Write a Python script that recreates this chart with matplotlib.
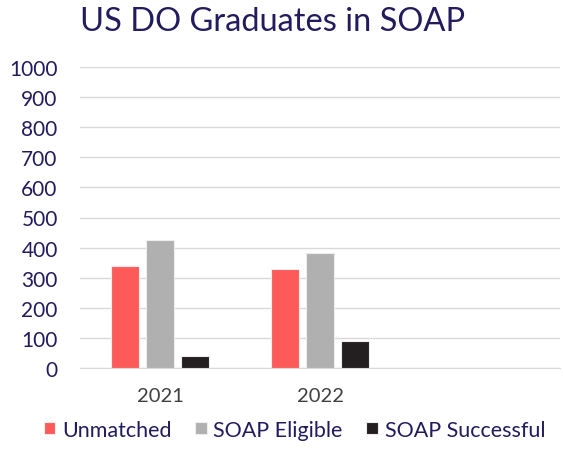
import numpy as np
import matplotlib
matplotlib.use("Agg")
from matplotlib import pyplot as plt

plt.rcParams['font.family'] = ['Lato', 'DejaVu Sans']

years = ["2021", "2022", ""]
unmatched = [338, 330, np.nan]
soap_eligible = [426, 383, np.nan]
soap_successful = [40, 91, np.nan]

navy = '#221C5E'
colors = ['#FF5A5A', '#B0B0B0', '#231F20']
labels = ['Unmatched', 'SOAP Eligible', 'SOAP Successful']

fig = plt.figure(figsize=(5.63, 4.6), dpi=100)
ax = fig.add_axes([0.142, 0.198, 0.853, 0.654])

x = np.arange(len(years))
w = 0.175
step = 0.22
for i, (vals, c, lab) in enumerate(zip([unmatched, soap_eligible, soap_successful], colors, labels)):
    ax.bar(x + (i - 1) * step, vals, w, color=c, label=lab,
           edgecolor='#EDEDED', linewidth=0.8, zorder=3)

ax.set_xlim(-0.5, 2.5)
ax.set_ylim(0, 1000)
ax.set_yticks(range(0, 1001, 100))
ax.set_xticks(x)
ax.set_xticklabels(years)
ax.grid(axis='y', color='#D9D9D9', linewidth=1, zorder=0)
for s in ['top', 'right', 'left']:
    ax.spines[s].set_visible(False)
ax.spines['bottom'].set_color('#D9D9D9')
ax.tick_params(axis='both', length=0)
ax.tick_params(axis='y', labelsize=15, labelcolor=navy, pad=16)
ax.tick_params(axis='x', labelsize=14.5, labelcolor='#404040', pad=14)

fig.suptitle("US DO Graduates in SOAP", fontsize=23.5, color=navy, x=0.485, y=0.985)

leg = fig.legend(loc='lower center', ncol=3, bbox_to_anchor=(0.523, 0.0),
                 frameon=False, fontsize=15.5, handlelength=0.55, handleheight=0.55,
                 handletextpad=0.3, columnspacing=1.1)
for t in leg.get_texts():
    t.set_color(navy)

plt.savefig("out.png", dpi=100)
plt.close()
